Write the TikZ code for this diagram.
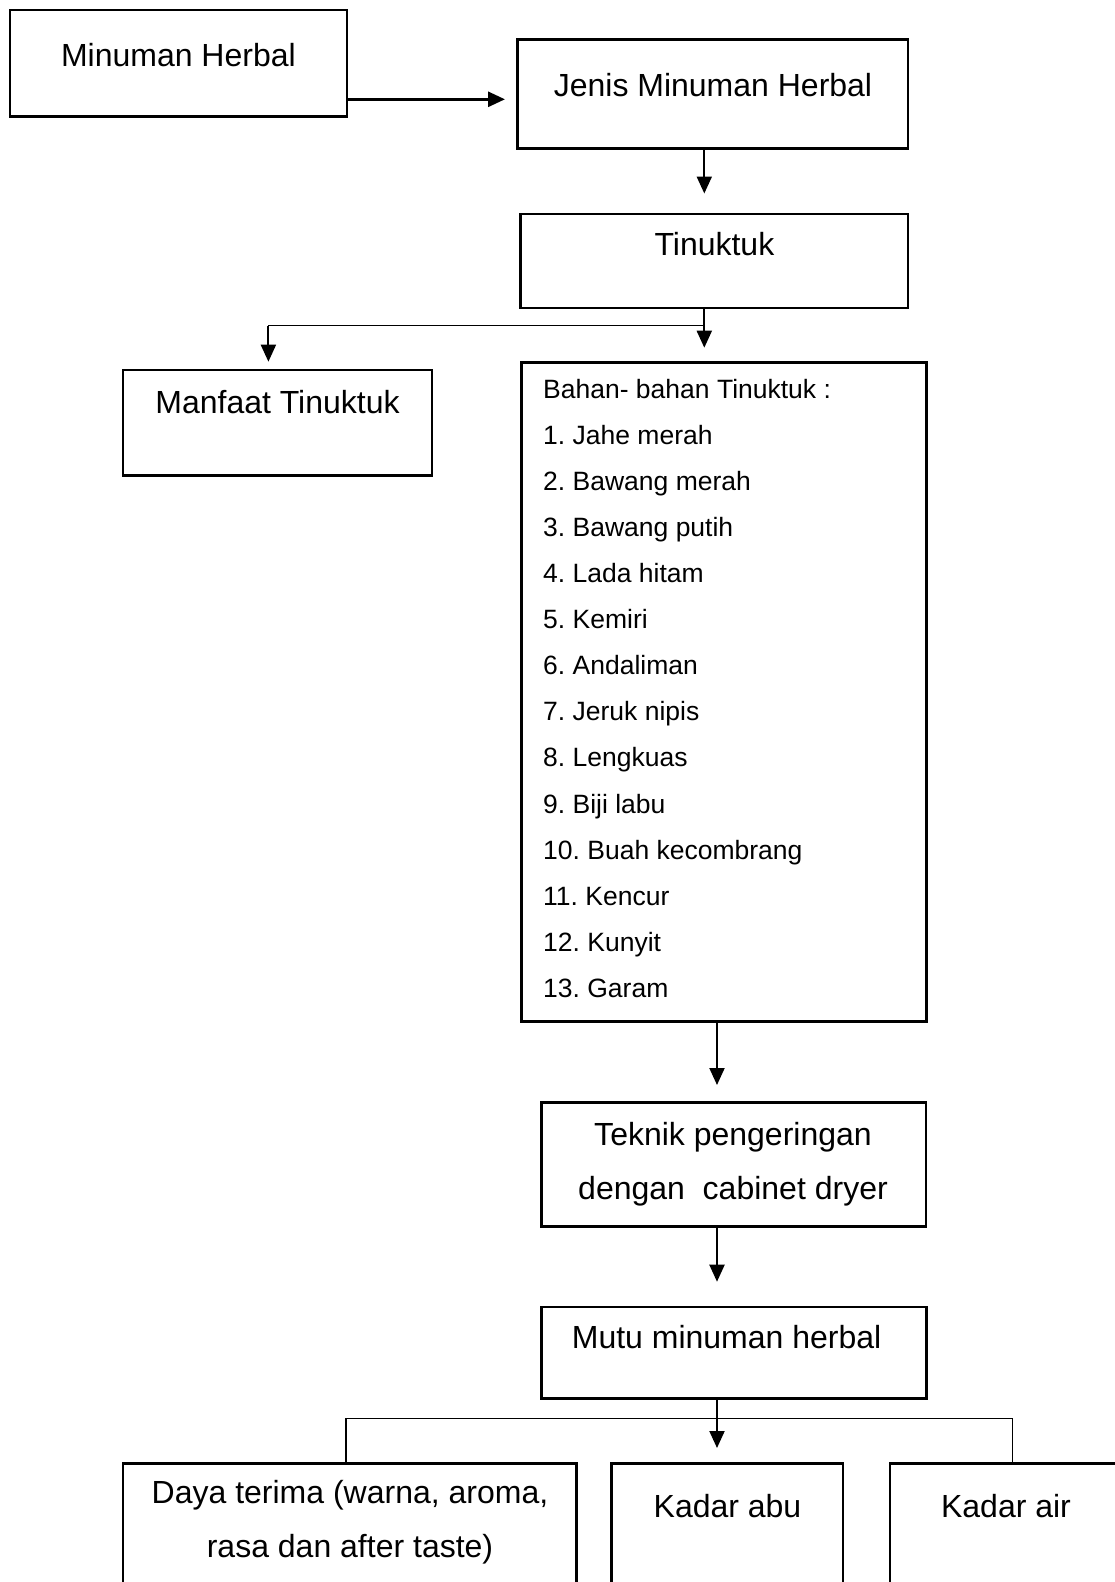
\documentclass[tikz,border=0pt]{standalone}
\usepackage{fontspec}
\setmainfont{Liberation Sans}
\usetikzlibrary{arrows.meta,fit}
\frenchspacing
\begin{document}
\begin{tikzpicture}[x=1pt,y=-1pt,
  box/.style={draw, line width=2.5pt, inner sep=0pt, outer sep=0pt},
  lbl/.style={font=\fontsize{32}{38}\selectfont\frenchspacing, inner sep=0pt, anchor=base},
  item/.style={font=\fontsize{26.5}{32}\selectfont\frenchspacing, inner sep=0pt, anchor=base west},
  arr/.style={line width=2pt, -{Triangle[length=17pt,width=15pt]}},
  link/.style={line width=1.2pt}]
\useasboundingbox (0,0) rectangle (1115,1582);
% boxes
\node[box, fit={(10,10) (347,116.5)}] (minum) {};
\node[box, fit={(517.6,39.3) (908.1,148.3)}] (jenis) {};
\node[box, fit={(520.7,214) (908.1,308)}] (tin) {};
\node[box, fit={(123.1,369.8) (431.9,475.7)}] (manfaat) {};
\node[box, fit={(521.7,362.7) (926.3,1021.7)}] (bahan) {};
\node[box, fit={(541.5,1102.7) (926,1226.5)}] (teknik) {};
\node[box, fit={(541.7,1307) (926.5,1398.3)}] (mutu) {};
\node[box, fit={(123.1,1463.5) (576.5,1600)}] (daya) {};
\node[box, fit={(611.5,1463.5) (843,1600)}] (kabu) {};
\node[box, fit={(890,1463.5) (1130,1600)}] (kair) {};
% texts
\node[lbl] (tminum) at (178.4,66) {Minuman Herbal};
\node[lbl] (tjenis) at (713,96.3) {Jenis Minuman Herbal};
\node[lbl] (ttin) at (714.4,255) {Tinuktuk};
\node[lbl] (tmanfaat) at (277.5,413.5) {Manfaat Tinuktuk};
\foreach [count=\i from 0] \t in {Bahan- bahan Tinuktuk :, 1. Jahe merah, 2. Bawang merah, 3. Bawang putih, 4. Lada hitam, 5. Kemiri, 6. Andaliman, 7. Jeruk nipis, 8. Lengkuas, 9. Biji labu, 10. Buah kecombrang, 11. Kencur, 12. Kunyit, 13. Garam}
  \node[item] (item\i) at (543,398.3+46.08*\i) {\t};
\node[lbl] (tteknik1) at (733,1145) {Teknik pengeringan};
\node[lbl] (tteknik2) at (733,1199) {dengan\ \ cabinet dryer};
\node[lbl] (tmutu) at (726.6,1348) {Mutu minuman herbal};
\node[lbl] (tdaya1) at (350,1503.3) {Daya terima (warna, aroma,};
\node[lbl] (tdaya2) at (350,1557.3) {rasa dan after taste)};
\node[lbl] (tkabu) at (727.5,1517) {Kadar abu};
\node[lbl] (tkair) at (1006,1517) {Kadar air};
% connectors
\coordinate (a1) at (505,99.3);
\draw[arr, line width=2.8pt] (minum.east |- a1) -- (a1);
\coordinate (a2) at (704.3,193.5);
\draw[arr] (jenis.south -| a2) -- (a2);
\coordinate (b1) at (704.3,325.5);
\coordinate (b2) at (268.4,325.5);
\coordinate (a3) at (704.3,347.7);
\coordinate (a4) at (268.4,361.7);
\draw[arr] (tin.south -| b1) -- (a3);
\draw[link] (b1) -- (b2);
\draw[arr] (b2) -- (a4);
\coordinate (a5) at (717,1085);
\draw[arr] (bahan.south -| a5) -- (a5);
\coordinate (a6) at (717,1281.7);
\draw[arr] (teknik.south -| a6) -- (a6);
\coordinate (a7) at (717,1448);
\draw[arr] (mutu.south -| a7) -- (a7);
\coordinate (c1) at (346,1418.5);
\coordinate (c2) at (1012.6,1418.5);
\draw[link] (daya.north -| c1) -- (c1) -- (c2) -- (kair.north -| c2);
\end{tikzpicture}
\end{document}
